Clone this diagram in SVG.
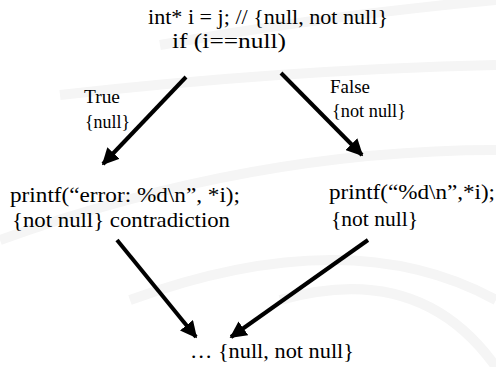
<svg xmlns="http://www.w3.org/2000/svg" width="496" height="367" viewBox="0 0 496 367">
  <defs>
    <marker id="head" viewBox="0 0 10 10" refX="9" refY="5" markerWidth="4.2" markerHeight="4.2" markerUnits="strokeWidth" orient="auto">
      <path d="M0,0 L10,5 L0,10 z" fill="#000"/>
    </marker>
    <style>
      .code { font-family: "Liberation Serif", "Times New Roman", serif; font-size: 22px; fill: #000; }
      .lbl { font-family: "Liberation Serif", "Times New Roman", serif; font-size: 18px; fill: #000; }
      .edge { stroke: #000; stroke-width: 4; fill: none; marker-end: url(#head); }
      .swoosh { fill: none; stroke: #f5f5f5; stroke-width: 10; }
    </style>
  </defs>
  <rect width="496" height="367" fill="#fff"/>
  <!-- faint background swooshes -->
  <g id="backdrop">
    <path class="swoosh" d="M160,45 Q330,15 496,0"/>
    <path class="swoosh" d="M60,95 Q280,70 496,65"/>
    <path class="swoosh" d="M0,240 Q250,150 496,150"/>
    <path class="swoosh" d="M130,300 Q350,220 496,300"/>
    <path class="swoosh" d="M280,300 Q420,260 496,367"/>
  </g>
  <g id="entry">
    <text class="code" x="148" y="24" textLength="240" lengthAdjust="spacingAndGlyphs">int* i = j; // {null, not null}</text>
    <text class="code" x="172" y="48" textLength="114" lengthAdjust="spacingAndGlyphs">if (i==null)</text>
  </g>
  <g id="true-branch">
    <text class="code" x="10" y="202" textLength="230" lengthAdjust="spacingAndGlyphs">printf(“error: %d\n”, *i);</text>
    <text class="code" x="12" y="227" textLength="218" lengthAdjust="spacingAndGlyphs">{not null} contradiction</text>
  </g>
  <g id="false-branch">
    <text class="code" x="329" y="199" textLength="166" lengthAdjust="spacingAndGlyphs">printf(“%d\n”,*i);</text>
    <text class="code" x="331" y="226" textLength="87" lengthAdjust="spacingAndGlyphs">{not null}</text>
  </g>
  <g id="join">
    <text class="code" x="190" y="358" textLength="164" lengthAdjust="spacingAndGlyphs">… {null, not null}</text>
  </g>
  <g id="connectors">
    <line class="edge" x1="186" y1="77" x2="103" y2="164"/>
    <line class="edge" x1="281" y1="73" x2="362" y2="155"/>
    <line class="edge" x1="117" y1="240" x2="196" y2="337"/>
    <line class="edge" x1="368" y1="240" x2="231" y2="337"/>
    <text class="lbl" x="84" y="103" textLength="36" lengthAdjust="spacingAndGlyphs">True</text>
    <text class="lbl" x="85" y="128" textLength="45" lengthAdjust="spacingAndGlyphs">{null}</text>
    <text class="lbl" x="330" y="93" textLength="40" lengthAdjust="spacingAndGlyphs">False</text>
    <text class="lbl" x="332" y="117" textLength="74" lengthAdjust="spacingAndGlyphs">{not null}</text>
  </g>
</svg>
